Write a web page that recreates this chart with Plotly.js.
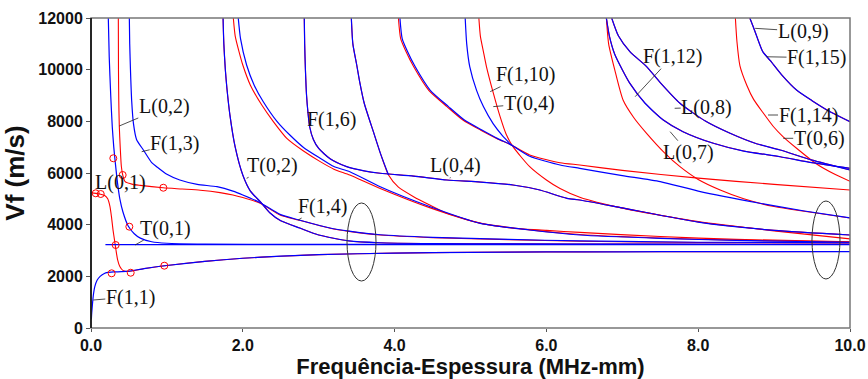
<!DOCTYPE html>
<html><head><meta charset="utf-8">
<script src="https://cdn.plot.ly/plotly-3.0.1.min.js"></script>
<style>html,body{margin:0;padding:0;background:#fff}#chart{width:868px;height:379px}</style>
</head><body><div id="chart"></div>
<script>
// ---------- data (x = MHz-mm, y = m/s) ----------
const F11_x = [0.005,0.01,0.02,0.03,0.05,0.08,0.12,0.17,0.22,0.3,0.4,0.5,0.7,1.0,1.5,2.0,2.5,3.0,4.0,5.0,6.0,7.0,8.0,10.0];
const F11_y = [350,600,950,1250,1600,1850,2000,2100,2150,2170,2180,2200,2300,2420,2580,2700,2780,2840,2900,2930,2945,2950,2955,2960];
const L01_x = [0,0.1,0.18,0.22,0.25,0.27,0.29,0.31,0.33,0.35,0.38,0.42,0.5,0.7,1.0,1.5,2.0,2.5,3.0,4.0,5.0,6.0,7.0,8.0,10.0];
const L01_y = [5230,5200,5130,5000,4700,4300,3800,3400,3000,2650,2380,2230,2190,2300,2420,2580,2700,2780,2840,2900,2930,2945,2950,2955,2960];
const T01_x = [0.19,10.0];
const T01_y = [3230,3230];
const F12_x = [0.228,0.24,0.26,0.28,0.30,0.32,0.35,0.38,0.42,0.49,0.57,0.65,0.8,1.0,1.5,2.5,10.0];
const F12_y = [12000,10500,9000,7800,7000,6400,5600,5000,4500,3950,3650,3480,3340,3280,3250,3235,3232];
const L02_x = [0.36,0.362,0.366,0.373,0.385,0.40,0.42,0.45,0.55,0.65,0.95,1.2,1.44,1.7,1.87,2.0,2.23,2.49,2.73,3.15,3.4,3.81,4.5,5.5,6.44,8.0,10.0];
const L02_y = [12000,10000,8800,7800,7000,6250,5900,5665,5560,5520,5430,5380,5330,5240,5150,5050,4830,4375,4180,3860,3740,3600,3500,3420,3360,3310,3290];
const F13_x = [0.505,0.51,0.52,0.536,0.56,0.6,0.69,0.8,0.865,1.0,1.17,1.4,1.66,1.87,2.0,2.23,2.49,2.73,3.15,3.4,3.81,4.5,5.5,6.44,8.0,10.0];
const F13_y = [12000,11000,10000,8800,7900,7300,6890,6400,6245,5950,5730,5560,5470,5300,5150,4850,4400,4190,3870,3750,3610,3510,3430,3370,3320,3300];
const T02_x = [1.74,1.75,1.77,1.79,1.83,1.9,2.0,2.1,2.23,2.36,2.5,2.75,3.0,3.4,3.8,4.5,5.5,7.0,10.0];
const T02_y = [12000,11000,10000,9300,8250,7000,5920,5300,4890,4450,4150,3870,3600,3370,3300,3270,3255,3245,3240];
const L03_x = [1.875,1.9,1.95,2.0,2.1,2.25,2.4,2.58,2.8,3.02,3.2,3.41,3.81,4.47,5.13,5.78,6.44,7.5,8.5,10.0];
const L03_y = [12000,11300,10700,10180,9400,8630,8000,7340,6850,6440,6150,5920,5400,4650,4060,3800,3620,3480,3400,3330];
const F15_x = [1.94,1.97,2.05,2.15,2.27,2.45,2.62,2.8,3.02,3.2,3.41,3.81,4.47,5.13,5.78,6.44,7.5,8.5,10.0];
const F15_y = [12000,11200,10180,9400,8760,8000,7470,6990,6570,6250,6050,5470,4695,4053,3794,3600,3470,3390,3320];
const F16_x = [2.81,2.815,2.825,2.84,2.86,2.88,2.93,3.0,3.15,3.37,3.6,3.81,4.25,4.69,5.13,5.56,5.9,6.27,6.44,7.0,8.0,9.0,10.0];
const F16_y = [12000,11000,10000,9000,8300,7800,7300,6950,6550,6245,6080,5990,5880,5730,5650,5535,5350,5020,4955,4650,4100,3780,3600];
const T03_x = [3.43,3.45,3.5,3.54,3.6,3.72,3.82,3.92,4.05,4.25,4.47,4.69,5.13,5.56,6.0,6.44,7.5,8.5,10.0];
const T03_y = [12000,11000,10200,9530,8700,7600,6700,5920,5450,5083,4750,4440,4053,3860,3780,3700,3540,3430,3340];
const F17_x = [3.43,3.45,3.5,3.54,3.6,3.72,3.82,3.92];
const F17_y = [12000,11000,10200,9530,8700,7600,6700,5920];
const L05_x = [4.05,4.08,4.15,4.25,4.45,4.69,4.9,5.13,5.35,5.54,5.78,6.18,6.44,7.0,8.0,9.0,10.0];
const L05_y = [12000,11200,10700,10120,9200,8570,8050,7665,7330,7080,6700,6400,6310,6100,5800,5560,5342];
const F19_x = [4.07,4.1,4.17,4.27,4.47,4.71,4.92,5.15,5.36,5.54,5.78,6.18,6.44,7.0,7.5,8.0,8.81,9.4,10.0];
const F19_y = [12000,11200,10700,10120,9200,8570,8050,7665,7330,7080,6650,6310,6180,5900,5665,5300,4830,4530,4260];
const F110_x = [4.93,4.95,4.99,5.08,5.17,5.3,5.42,5.54];
const F110_y = [12000,11000,10120,9200,8570,7900,7450,7080];
const T04_x = [5.11,5.13,5.17,5.21,5.3,5.39,5.47,5.56,5.78,6.0,6.18,6.44,7.0,8.0,9.0,10.0];
const T04_y = [12000,11300,10700,10120,9100,8180,7500,7020,6245,5730,5400,5060,4640,4120,3760,3450];
const F112_x = [6.79,6.82,6.9,7.01,7.15,7.32,7.55,7.76,8.0,8.29,8.6,9.0,10.0];
const F112_y = [12000,11000,10000,8826,8150,7536,6800,6245,5750,5342,5000,4700,4260];
const L07_x = [6.79,6.83,6.9,7.0,7.1,7.3,7.54,7.8,8.2,8.6,9.08,9.5,10.0];
const L07_y = [12000,11300,10600,10000,9470,8700,8050,7600,7150,6850,6630,6400,6180];
const L08_x = [6.86,6.95,7.1,7.32,7.5,7.76,8.1,8.42,8.75,9.08,9.5,10.0];
const L08_y = [12000,11300,10700,10120,9500,8700,8000,7536,7150,6890,6500,6116];
const T06_x = [8.49,8.51,8.55,8.64,8.73,8.85,8.99,9.12,9.3,9.56,9.8,10.0];
const T06_y = [12000,11100,10150,9400,8850,8350,7800,7400,6950,6350,5950,5680];
const L09_x = [8.68,8.72,8.77,8.85,8.95,9.1,9.3,9.5,9.75,10.0];
const L09_y = [12000,11700,11300,10700,10350,9800,9200,8800,8350,7985];
// measured points (red circles)
const pts_x = [0.062,0.128,0.294,0.417,0.953,0.505,0.325,0.272,0.523,0.966];
const pts_y = [5214,5187,6570,5923,5430,3922,3213,2117,2140,2412];
// mode labels and where their leaders point
const lab_text = ['L(0,2)','F(1,3)','L(0,1)','T(0,1)','F(1,1)','T(0,2)','F(1,4)','F(1,6)','L(0,4)','F(1,10)','T(0,4)','F(1,12)','L(0,8)','L(0,7)','L(0,9)','F(1,15)','F(1,14)','T(0,6)'];
const lab_x = [0.373,0.668,0.12,0.58,0.03,2.05,2.73,2.91,4.73,5.26,5.3,7.17,7.69,7.63,8.75,8.9,8.92,9.12];
const lab_y = [7820,6825,5150,3213,1084,5795,4180,7665,5795,9150,8570,8955,8505,7600,11600,10500,8245,7343];
const xTicks = [0,2,4,6,8,10];
const xTickText = ['0.0','2.0','4.0','6.0','8.0','10.0'];
const yTicks = [0,2000,4000,6000,8000,10000,12000];
const yTickText = ['0','2000','4000','6000','8000','10000','12000'];

// ---------- drawing ----------
const RED = '#ff0000', BLUE = '#0000ff';
const traces = [];
function line(x, y, color, w) {
  traces.push({x: x, y: y, type: 'scatter', mode: 'lines', line: {color: color, width: w, shape: 'spline', smoothing: 0.6}, hoverinfo: 'skip', showlegend: false, cliponaxis: true});
}
// red family
[[L01_x,L01_y],[L02_x,L02_y],[T02_x,T02_y],[L03_x,L03_y],[F16_x,F16_y],[T03_x,T03_y],[L05_x,L05_y],[T04_x,T04_y],[F112_x,F112_y],[L07_x,L07_y],[T06_x,T06_y],[L09_x,L09_y],[L08_x,L08_y]].forEach(c => line(c[0], c[1], RED, 1.1));
// blue family
[[F11_x,F11_y],[T01_x,T01_y],[F12_x,F12_y],[F13_x,F13_y],[T02_x,T02_y],[F15_x,F15_y],[F16_x,F16_y],[F17_x,F17_y],[F19_x,F19_y],[F110_x,F110_y],[L07_x,L07_y],[L08_x,L08_y],[L09_x,L09_y]].forEach(c => line(c[0], c[1], BLUE, 1.2));
traces.push({x: pts_x, y: pts_y, type: 'scatter', mode: 'markers', marker: {symbol: 'circle-open', size: 7, color: RED, line: {width: 1, color: RED}}, hoverinfo: 'skip', showlegend: false});

// label offsets (px from leader tip to label centre)
const labOff = [[45,-19],[33,-8],[20,-12],[30,-17],[37,-3],[26,-13],[24,-14],[20,-10],[5,-13],[35,-17],[36,-3],[37,-40],[32,-1],[18,21],[48,3],[50,1],[40,0],[36,0]];
const annotations = lab_text.map((t, i) => ({
  x: lab_x[i], y: lab_y[i], xref: 'x', yref: 'y', text: t, showarrow: true, arrowhead: 0, arrowwidth: 0.8, arrowcolor: '#222',
  ax: labOff[i][0], ay: labOff[i][1], font: {family: 'Liberation Serif, Times New Roman, serif', size: 20, color: '#111'}, borderpad: 0
}));

const shapes = [
  {type: 'circle', xref: 'x', yref: 'y', x0: 3.373, x1: 3.755, y0: 1819, y1: 4839, line: {color: '#333', width: 1}},
  {type: 'circle', xref: 'x', yref: 'y', x0: 9.499, x1: 9.868, y0: 1897, y1: 4916, line: {color: '#333', width: 1}},
  {type: 'rect', xref: 'paper', yref: 'paper', x0: 0, x1: 1, y0: 0, y1: 1, line: {color: '#777', width: 1.5}},
  {type: 'line', xref: 'paper', yref: 'paper', x0: 0, x1: 0, y0: 0, y1: 1, line: {color: '#000', width: 1.5}}
];

const layout = {
  width: 868, height: 379,
  margin: {l: 91, r: 18, t: 18, b: 51},
  paper_bgcolor: '#fff', plot_bgcolor: '#fff',
  showlegend: false,
  xaxis: {range: [0, 10], tickvals: xTicks, ticktext: xTickText, ticks: 'outside', ticklen: 3, tickcolor: '#555',
    showgrid: false, zeroline: false, showline: false,
    tickfont: {family: 'Liberation Sans, Arial, sans-serif', size: 16, color: '#111', weight: 'bold'},
    title: {text: '<b>Frequência-Espessura (MHz-mm)</b>', font: {family: 'Liberation Sans, Arial, sans-serif', size: 22, color: '#111'}, standoff: 9}},
  yaxis: {range: [0, 12000], tickvals: yTicks, ticktext: yTickText, ticks: 'outside', ticklen: 4, tickcolor: '#555',
    showgrid: false, zeroline: false, showline: false,
    tickfont: {family: 'Liberation Sans, Arial, sans-serif', size: 16, color: '#111', weight: 'bold'},
    title: {text: '<b>Vf (m/s)</b>', font: {family: 'Liberation Sans, Arial, sans-serif', size: 26, color: '#111'}, standoff: 6}},
  annotations: annotations,
  shapes: shapes
};
Plotly.newPlot('chart', traces, layout, {staticPlot: true, displayModeBar: false});
</script></body></html>
